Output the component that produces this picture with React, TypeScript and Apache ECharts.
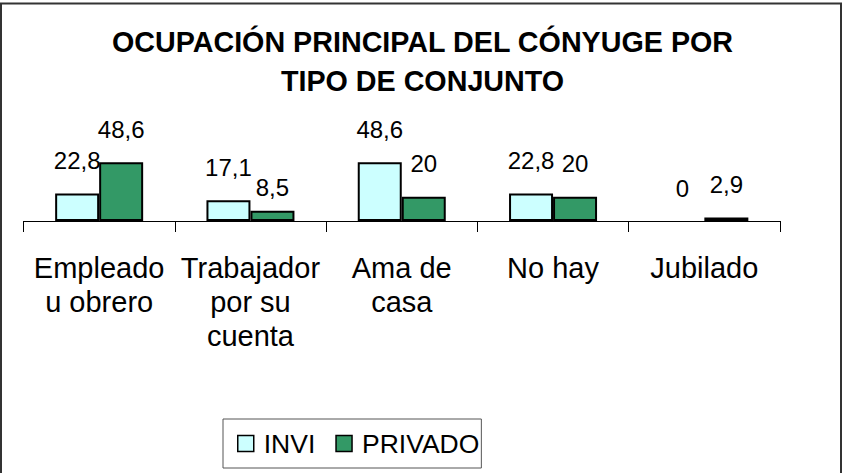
import React, { useEffect, useRef } from "react";
import * as echarts from "echarts";

const categories = ["Empleado\nu obrero", "Trabajador\npor su\ncuenta", "Ama de\ncasa", "No hay", "Jubilado"];
const inviValues = [22.8, 17.1, 48.6, 22.8, 0];
const privadoValues = [48.6, 8.5, 20, 20, 2.9];
const seriesNames = ["INVI", "PRIVADO"];
const titleText = "OCUPACIÓN PRINCIPAL DEL CÓNYUGE POR\nTIPO DE CONJUNTO";

const FONT = "Liberation Sans, Arial, sans-serif";

export default function App() {
  const ref = useRef<HTMLDivElement>(null);
  useEffect(() => {
    document.body.style.margin = "0";
    if (!ref.current) return;
    const chart = echarts.init(ref.current, undefined, { renderer: "svg" });
    const fmt = (p: any) => String(p.value).replace(".", ",");
    const labelBase = {
      show: true,
      position: "top" as const,
      distance: 21,
      fontSize: 24,
      lineHeight: 24,
      color: "#000",
      fontFamily: FONT,
      formatter: fmt,
    };
    chart.setOption({
      animation: false,
      backgroundColor: "#fff",
      title: {
        text: titleText,
        left: "center",
        top: 22,
        padding: 0,
        textStyle: {
          fontFamily: FONT,
          fontWeight: "bold",
          fontSize: 28.7,
          lineHeight: 39.5,
          color: "#000",
        },
      },
      legend: {
        data: seriesNames,
        left: 223,
        top: 419,
        orient: "horizontal",
        padding: [11, 2, 11, 14],
        itemGap: 20,
        itemWidth: 16,
        itemHeight: 16,
        icon: "rect",
        borderColor: "#555",
        borderWidth: 1,
        itemStyle: { borderColor: "#000", borderWidth: 1.5 },
        textStyle: { fontFamily: FONT, fontSize: 26.5, color: "#000", padding: [0, 0, 0, 5] },
      },
      grid: { left: 23.5, right: 65, top: 100, height: 121 },
      xAxis: {
        type: "category",
        data: categories,
        boundaryGap: true,
        axisLine: { show: true, lineStyle: { color: "#000", width: 1 } },
        axisTick: { show: true, length: 11, alignWithLabel: false, lineStyle: { color: "#000" } },
        axisLabel: {
          interval: 0,
          margin: 30,
          fontFamily: FONT,
          fontSize: 29,
          lineHeight: 34,
          color: "#000",
        },
      },
      yAxis: {
        type: "value",
        min: 0,
        max: 100,
        show: false,
        splitLine: { show: false },
      },
      series: [
        {
          name: seriesNames[0],
          type: "bar",
          barWidth: 44,
          barGap: "0%",
          itemStyle: { color: "#CCFFFF", borderColor: "#000", borderWidth: 2 },
          label: labelBase,
          data: inviValues.map((v) =>
            v === 0 ? { value: v, itemStyle: { borderWidth: 0 } } : { value: v }
          ),
        },
        {
          name: seriesNames[1],
          type: "bar",
          barWidth: 44,
          barGap: "0%",
          itemStyle: { color: "#339966", borderColor: "#000", borderWidth: 2 },
          label: labelBase,
          data: privadoValues.map((v, i) =>
            i === 1 ? { value: v, label: { distance: 11 } } : { value: v }
          ),
        },
      ],
      graphic: [
        {
          type: "rect",
          shape: { x: 1, y: 3.5, width: 840, height: 500 },
          style: { fill: "none", stroke: "#333", lineWidth: 2 },
          silent: true,
          z: 100,
        },
      ],
    });
    return () => chart.dispose();
  }, []);
  return <div ref={ref} style={{ width: 845, height: 473 }} />;
}
